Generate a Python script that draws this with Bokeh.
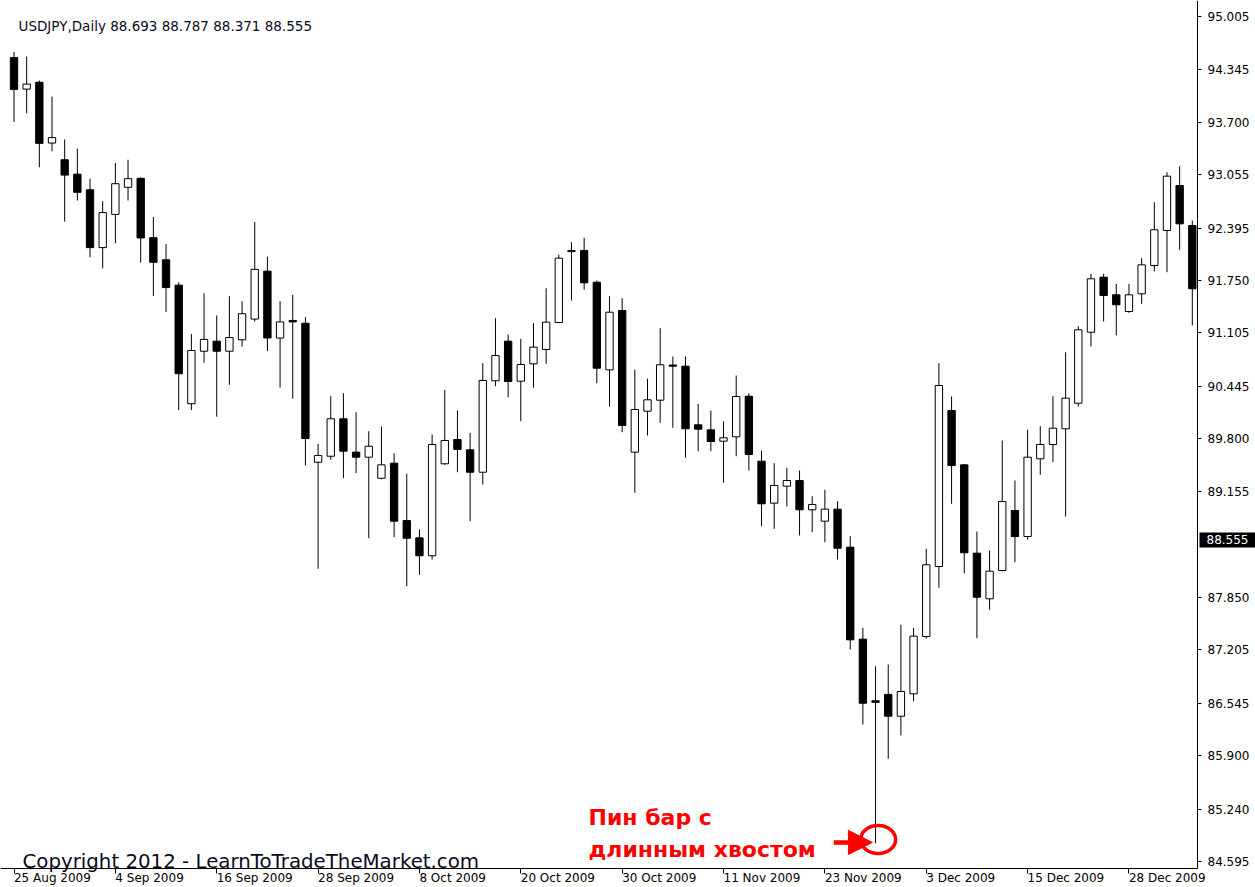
import pandas as pd
from bokeh.plotting import figure
from bokeh.models import (ColumnDataSource, FixedTicker, NumeralTickFormatter, Label,
                          Arrow, NormalHead, Range1d, CustomJSTickFormatter)
from bokeh.embed import file_html
from bokeh.resources import INLINE

# ---------------- data ----------------
symbol = "USDJPY,Daily"
last_bar = [88.693, 88.787, 88.371, 88.555]   # O H L C shown in the header
current_price = 88.555

opens = [94.495, 94.107, 94.191, 93.443, 93.237, 93.060, 92.867, 92.155, 92.564, 92.898,
         93.008, 92.278, 92.005, 91.693, 90.233, 90.879, 91.003, 90.879, 91.020, 91.275,
         91.865, 91.042, 91.258, 91.224, 89.512, 89.586, 90.047, 89.636, 89.574, 89.315,
         89.500, 88.794, 88.581, 88.360, 89.493, 89.792, 89.665, 89.389, 90.515, 91.003,
         90.510, 90.724, 90.900, 91.233, 92.105, 92.120, 91.729, 90.650, 91.381, 89.636,
         90.141, 90.276, 90.709, 90.695, 89.973, 89.911, 89.771, 89.825, 90.325, 89.525,
         89.008, 89.217, 89.287, 88.926, 88.786, 88.934, 88.466, 87.333, 86.575, 86.652,
         86.384, 86.660, 87.366, 88.228, 90.149, 89.480, 88.392, 87.830, 88.179, 88.917,
         88.597, 89.554, 89.730, 89.924, 90.239, 91.113, 91.791, 91.574, 91.368, 91.586,
         91.935, 92.366, 92.920, 92.427]
highs = [94.565, 94.508, 94.213, 94.015, 93.488, 93.373, 93.004, 92.727, 93.197, 93.237,
         93.021, 92.533, 92.198, 91.728, 91.090, 91.591, 91.319, 91.557, 91.495, 92.472,
         92.044, 91.495, 91.574, 91.298, 89.739, 90.325, 90.362, 90.128, 89.894, 89.952,
         89.623, 89.370, 88.684, 89.854, 90.404, 90.149, 89.874, 90.732, 91.286, 91.085,
         91.032, 91.224, 91.655, 92.067, 92.222, 92.276, 91.750, 91.557, 91.532, 90.654,
         90.540, 91.163, 90.814, 90.814, 90.232, 90.149, 90.014, 90.580, 90.362, 89.656,
         89.500, 89.443, 89.410, 89.094, 89.172, 89.032, 88.601, 87.473, 87.000, 87.021,
         87.510, 87.473, 88.446, 90.732, 90.322, 89.490, 88.659, 88.425, 89.780, 89.287,
         89.911, 89.956, 90.325, 90.867, 91.187, 91.833, 91.833, 91.709, 91.709, 92.025,
         92.714, 93.084, 93.158, 92.489]
lows = [93.703, 93.808, 93.144, 93.342, 92.475, 92.735, 92.036, 91.899, 92.207, 92.735,
        91.971, 91.560, 91.363, 90.154, 90.154, 90.739, 90.074, 90.466, 90.936, 91.244,
        90.879, 90.431, 90.293, 89.472, 88.200, 89.542, 89.315, 89.377, 88.576, 89.300,
        88.589, 87.985, 88.126, 88.314, 89.480, 89.389, 88.786, 89.238, 90.448, 90.313,
        90.017, 90.429, 90.724, 91.225, 91.504, 91.636, 90.485, 90.198, 89.882, 89.136,
        89.841, 89.998, 89.936, 89.567, 89.648, 89.648, 89.259, 89.586, 89.410, 88.724,
        88.692, 88.967, 88.610, 88.650, 88.527, 88.314, 87.206, 86.282, 84.820, 85.860,
        86.147, 86.569, 87.338, 87.966, 89.000, 88.144, 87.345, 87.695, 88.167, 88.281,
        88.557, 89.357, 89.512, 88.844, 90.198, 90.937, 91.245, 91.073, 91.352, 91.463,
        91.861, 91.852, 92.128, 91.196]
closes = [94.104, 94.169, 93.439, 93.510, 93.048, 92.836, 92.155, 92.586, 92.942, 93.004,
          92.274, 91.974, 91.663, 90.602, 90.888, 91.025, 90.879, 91.047, 91.341, 91.887,
          91.042, 91.240, 91.240, 89.804, 89.595, 90.047, 89.648, 89.574, 89.709, 89.480,
          88.786, 88.576, 88.360, 89.730, 89.780, 89.669, 89.389, 90.519, 90.826, 90.506,
          90.716, 90.929, 91.237, 92.025, 92.120, 91.722, 90.670, 91.360, 89.964, 90.161,
          90.281, 90.712, 90.695, 89.924, 89.919, 89.767, 89.813, 90.322, 89.607, 89.000,
          89.226, 89.287, 88.926, 88.992, 88.934, 88.453, 87.325, 86.544, 86.555, 86.384,
          86.689, 87.370, 88.249, 90.457, 89.472, 88.397, 87.850, 88.170, 89.028, 88.597,
          89.574, 89.730, 89.931, 90.301, 91.143, 91.771, 91.565, 91.451, 91.574, 91.943,
          92.375, 93.035, 92.448, 91.648]

# trading days (no weekends, no 25 Dec)
dates = [d for d in pd.bdate_range("2009-08-25", periods=95)
         if d != pd.Timestamp("2009-12-25")][:len(opens)]
date_labels = ["25 Aug 2009", "4 Sep 2009", "16 Sep 2009", "28 Sep 2009", "8 Oct 2009",
               "20 Oct 2009", "30 Oct 2009", "11 Nov 2009", "23 Nov 2009", "3 Dec 2009",
               "15 Dec 2009", "28 Dec 2009"]
price_ticks = [95.005, 94.345, 93.700, 93.055, 92.395, 91.750, 91.105, 90.445, 89.800,
               89.155, 87.850, 87.205, 86.545, 85.900, 85.240, 84.595]
note_lines = ["Пин бар с", "длинным хвостом"]
copyright_text = "Copyright 2012 - LearnToTradeTheMarket.com"

# ---------------- layout helpers (reference pixel -> data) ----------------
BAR_PX = 12.67          # pixels per bar
PRICE_PX = 81.2         # pixels per yen
def X(px):
    return (px - 13.5) / BAR_PX
def Y(py):
    return 95.005 - (py - 15.7) / PRICE_PX

FONT = "DejaVu Sans"
FIG_W, FIG_H = 1255, 887
LABEL_PX = 12

# the frame covers the whole canvas; both scales are drawn at fixed locations inside it
x_range = Range1d(X(0), X(FIG_W))
y_range = Range1d(Y(FIG_H), Y(0))
X_AXIS_AT = Y(868)      # price level of the time-scale line
Y_AXIS_AT = X(1197)     # bar position of the price-scale line

# DejaVu Sans advance widths (em) used to left-align the date labels on their ticks
EM = {" ": 0.318, "A": 0.684, "D": 0.770, "N": 0.748, "O": 0.787, "S": 0.635,
      "c": 0.550, "e": 0.615, "g": 0.635, "o": 0.612, "p": 0.635, "t": 0.392,
      "u": 0.634, "v": 0.592}
def text_w(s):
    return sum(EM.get(ch, 0.636) for ch in s) * LABEL_PX

label_of = [f"{d.day} {d.strftime('%b %Y')}" for d in dates]
tick_idx = [label_of.index(s) for s in date_labels]
label_pos = [t + text_w(s) / 2 / BAR_PX for t, s in zip(tick_idx, date_labels)]

p = figure(width=FIG_W, height=FIG_H, x_range=x_range, y_range=y_range,
           y_axis_location="right", output_backend="svg", toolbar_location=None,
           min_border_left=0, min_border_top=0, min_border_right=0, min_border_bottom=0)
p.outline_line_color = None
p.grid.visible = False
p.background_fill_color = "white"
p.border_fill_color = "white"

# time scale: short marks at the dated bars (minor ticks), labels starting at the marks
xa = p.xaxis[0]
xa.axis_label = None
xa.fixed_location = X_AXIS_AT
xa.bounds = (x_range.start, Y_AXIS_AT)
xa.ticker = FixedTicker(ticks=label_pos, minor_ticks=tick_idx)
xa.formatter = CustomJSTickFormatter(args=dict(labels=date_labels), code="return labels[index]")
xa.major_tick_out = 0
xa.major_tick_in = 0
xa.major_tick_line_color = None
xa.minor_tick_out = 5
xa.minor_tick_in = 0
xa.minor_tick_line_color = "black"
xa.major_label_standoff = -3
xa.major_label_text_font = FONT
xa.major_label_text_font_size = f"{LABEL_PX}px"
xa.major_label_text_color = "black"
xa.axis_line_color = "black"

# price scale
ya = p.yaxis[0]
ya.axis_label = None
ya.fixed_location = Y_AXIS_AT
ya.bounds = (X_AXIS_AT, y_range.end)
ya.ticker = FixedTicker(ticks=price_ticks)
ya.formatter = NumeralTickFormatter(format="0.000")
ya.major_tick_out = 4
ya.major_tick_in = 0
ya.minor_tick_out = 0
ya.minor_tick_in = 0
ya.major_label_standoff = 6
ya.major_label_text_font = FONT
ya.major_label_text_font_size = "12px"
ya.major_label_text_color = "black"
ya.axis_line_color = "black"
ya.major_tick_line_color = "black"

# ---------------- candles ----------------
idx = list(range(len(opens)))
src = ColumnDataSource(dict(
    x=idx, o=opens, h=highs, l=lows, c=closes,
    top=[max(o, c) for o, c in zip(opens, closes)],
    bottom=[min(o, c) for o, c in zip(opens, closes)],
    fill=["white" if c > o else "black" for o, c in zip(opens, closes)],
))
p.segment(x0="x", y0="h", x1="x", y1="l", source=src, line_color="black", line_width=1)
p.vbar(x="x", width=0.58, top="top", bottom="bottom", source=src,
       fill_color="fill", line_color="black", line_width=1)

# current price box on the price scale
half_box = 7.5 / PRICE_PX
p.quad(left=[Y_AXIS_AT + 2 / BAR_PX], right=[x_range.end], top=[current_price + half_box],
       bottom=[current_price - half_box], fill_color="black", line_color=None)
p.add_layout(Label(x=Y_AXIS_AT, y=current_price, text=f"{current_price:.3f}",
                   text_font=FONT, text_font_size="12px", text_color="white",
                   text_align="left", text_baseline="middle", x_offset=9))

# header
header = symbol + "  " + " ".join(f"{v:.3f}" for v in last_bar)
p.add_layout(Label(x=X(18), y=Y(25), text=header, text_font=FONT, text_font_size="13.5px",
                   text_color="#0a0a1e", text_align="left", text_baseline="alphabetic"))

# copyright
p.add_layout(Label(x=X(22), y=Y(861), text=copyright_text, text_font=FONT,
                   text_font_size="19.8px", text_color="#0a0a1e", text_align="left",
                   text_baseline="alphabetic"))

# pin bar annotation
pin = min(idx, key=lambda i: lows[i])
pin_low = lows[pin]
p.add_layout(Label(x=X(588), y=Y(817), text=note_lines[0], text_font=FONT,
                   text_font_style="bold", text_font_size="22px", text_color="#ff0000",
                   text_align="left", text_baseline="alphabetic"))
p.add_layout(Label(x=X(588), y=Y(849), text=note_lines[1], text_font=FONT,
                   text_font_style="bold", text_font_size="22px", text_color="#ff0000",
                   text_align="left", text_baseline="alphabetic"))
p.add_layout(Arrow(end=NormalHead(size=24, fill_color="#ff0000", line_color="#ff0000"),
                   x_start=pin - 3.3, y_start=pin_low + 0.01, x_end=pin - 0.25,
                   y_end=pin_low + 0.01, line_color="#ff0000", line_width=4.5))
p.ellipse(x=[pin + 0.2], y=[pin_low + 0.045], width=35, height=28,
          width_units="screen", height_units="screen",
          fill_color=None, line_color="#ff0000", line_width=3.5)

open("out.html", "w").write(file_html(p, INLINE))
